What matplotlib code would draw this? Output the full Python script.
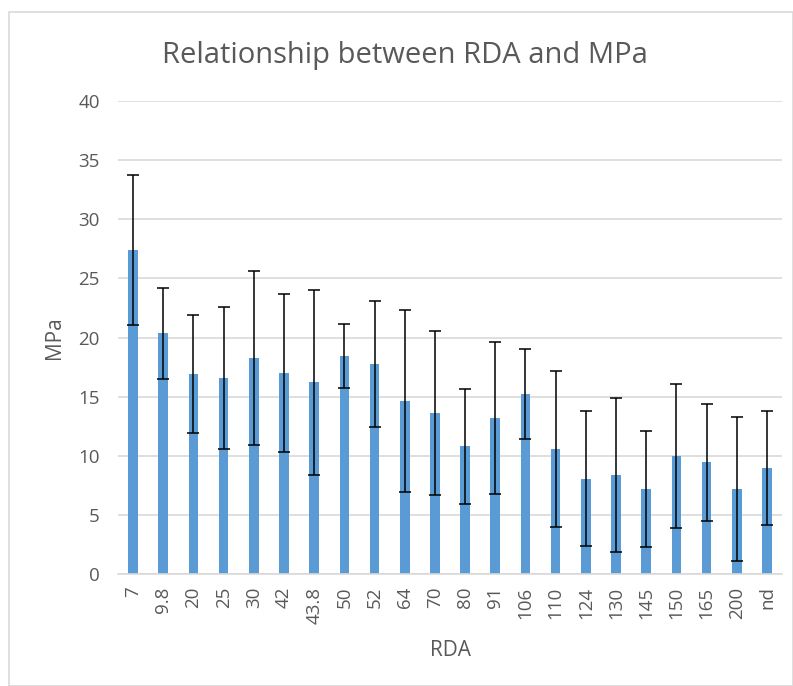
import matplotlib
matplotlib.use("Agg")
import matplotlib.pyplot as plt
from matplotlib.patches import Rectangle

categories = ["7", "9.8", "20", "25", "30", "42", "43.8", "50", "52", "64", "70",
              "80", "91", "106", "110", "124", "130", "145", "150", "165", "200", "nd"]
mpa_mean = [27.4, 20.35, 16.9, 16.6, 18.3, 17.0, 16.2, 18.4, 17.75, 14.6, 13.6,
            10.8, 13.2, 15.2, 10.6, 8.05, 8.4, 7.2, 9.95, 9.45, 7.2, 8.95]
mpa_err = [6.35, 3.85, 5.0, 6.0, 7.35, 6.65, 7.8, 2.7, 5.3, 7.7, 6.95,
           4.88, 6.4, 3.8, 6.6, 5.7, 6.5, 4.9, 6.1, 4.93, 6.07, 4.8]
yticks = [0, 5, 10, 15, 20, 25, 30, 35, 40]

plt.rcParams['font.family'] = ['Open Sans', 'DejaVu Sans']
W, H = 793, 686
fig = plt.figure(figsize=(W / 100, H / 100), dpi=100)
fig.patches.append(Rectangle((9 / W, 0), 1 - 9 / W, 1 - 12 / H, transform=fig.transFigure,
                             fill=False, edgecolor='#d9d9d9', linewidth=1.2))
ax = fig.add_axes([118 / W, 1 - 574 / H, (782 - 118) / W, (574 - 101) / H])
x = list(range(len(categories)))
ax.bar(x, mpa_mean, width=0.32, color='#5b9bd5', zorder=2)
ax.errorbar(x, mpa_mean, yerr=mpa_err, fmt='none', ecolor='black', elinewidth=1.1,
            capsize=4, capthick=1.1, zorder=3)
ax.set_xlim(-0.5, len(categories) - 0.5)
ax.set_ylim(0, 40)
ax.set_yticks(yticks)
ax.set_xticks(x)
ax.set_xticklabels(categories, rotation=90)
ax.grid(axis='y', color='#d9d9d9', linewidth=1.2, zorder=0)
for s in ['top', 'right', 'left']:
    ax.spines[s].set_visible(False)
ax.spines['bottom'].set_color('#d9d9d9')
ax.spines['bottom'].set_linewidth(1.2)
ax.tick_params(axis='both', length=0, labelsize=13.5, colors='#595959')
ax.tick_params(axis='x', pad=9)
ax.tick_params(axis='y', pad=13)
ax.set_xlabel('RDA', fontsize=15, color='#595959', labelpad=12)
ax.set_ylabel('MPa', fontsize=15, color='#595959', labelpad=10)
fig.text(0.5 + 8 / W, 1 - 55 / H, 'Relationship between RDA and MPa', ha='center', va='center',
         fontsize=21, color='#595959')
fig.savefig('out.png', dpi=100)
